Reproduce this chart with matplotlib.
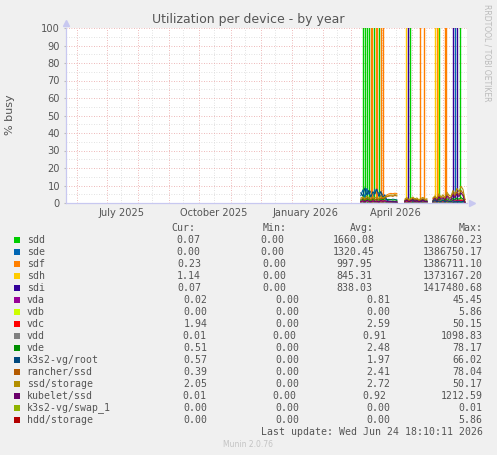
import matplotlib
matplotlib.use("Agg")
import matplotlib.pyplot as plt
from matplotlib.patches import Rectangle
import numpy as np
import pandas as pd

nan = np.nan

# legend order == drawing order
devices = ["sdd", "sde", "sdf", "sdh", "sdi", "vda", "vdb", "vdc", "vdd", "vde",
           "k3s2-vg/root", "rancher/ssd", "ssd/storage", "kubelet/ssd",
           "k3s2-vg/swap_1", "hdd/storage"]
colors = ["#00CC00", "#0066B3", "#FF8000", "#FFCC00", "#330099", "#990099",
          "#CCFF00", "#FF0000", "#808080", "#008F00", "#00487D", "#B35A00",
          "#B38F00", "#6B006B", "#8FB300", "#B30000"]

cur = ["0.07", "0.00", "0.23", "1.14", "0.07", "0.02", "0.00", "1.94", "0.01",
       "0.51", "0.57", "0.39", "2.05", "0.01", "0.00", "0.00"]
mins = ["0.00"] * 16
avgs = ["1660.08", "1320.45", "997.95", "845.31", "838.03", "0.81", "0.00",
        "2.59", "0.91", "2.48", "1.97", "2.41", "2.72", "0.92", "0.00", "0.00"]
maxs = ["1386760.23", "1386750.17", "1386711.10", "1373167.20", "1417480.68",
        "45.45", "5.86", "50.15", "1098.83", "78.17", "66.02", "78.04", "50.17",
        "1212.59", "0.01", "5.86"]

# samples every 2 days from 2026-03-11, gaps where the node was down
sample_dates = pd.date_range("2026-03-11", periods=53, freq="2D")

sdd_busy = [1.2, 0.8, 1.5, 0.9, 1.1, 0.7, 1.3, 0.6, 0.9, 0.5, 0.8, 0.4, 0.6, 0.3, 0.5, 0.4, 0.3, 0.2, 0.3,
            nan, nan, nan,
            0.4, 0.6, 0.3, 0.5, 0.2, 0.4, 0.3, 0.5, 0.2, 0.3, 0.4, 0.2,
            nan, nan,
            0.3, 0.5, 0.2, 0.4, 0.3, 0.6, 0.2, 0.4, 0.3, 0.5, 0.2, 0.3, 0.4, 0.2, 0.3, 0.1, 0.07]
sde_busy = [4.2, 7.5, 3.1, 8.3, 5.0, 6.8, 2.9, 7.9, 4.4, 6.1, 3.6, 5.2, 2.4, 2.0, 2.1, 1.9, 2.2, 2.0, 1.8,
            nan, nan, nan,
            1.1, 2.3, 0.8, 1.9, 1.4, 2.6, 0.9, 1.7, 1.2, 2.1, 0.7, 1.0,
            nan, nan,
            0.6, 1.2, 0.4, 0.9, 0.7, 1.5, 0.5, 1.1, 0.8, 0.6, 1.3, 0.4, 0.9, 0.5, 0.7, 0.3, 0.0]
sdf_busy = [0.9, 1.4, 0.7, 1.8, 1.1, 0.8, 1.5, 0.9, 1.2, 1.0, 1.6, 1.3, 2.8, 4.6, 5.2, 5.5, 5.3, 5.6, 5.4,
            nan, nan, nan,
            0.8, 1.2, 0.6, 1.0, 1.4, 0.7, 1.1, 0.5, 0.9, 1.3, 0.6, 0.8,
            nan, nan,
            0.7, 1.1, 0.5, 1.3, 0.8, 1.0, 0.6, 1.5, 0.9, 0.7, 1.6, 1.0, 1.8, 1.2, 2.1, 1.4, 0.23]
sdh_busy = [0.6, 0.9, 0.4, 1.2, 0.7, 0.5, 1.0, 0.6, 0.8, 0.4, 0.9, 0.7, 1.1, 0.8, 0.6, 0.7, 0.5, 0.6, 0.4,
            nan, nan, nan,
            0.9, 1.3, 0.7, 1.1, 1.5, 0.8, 1.2, 0.6, 1.0, 1.4, 0.7, 0.9,
            nan, nan,
            1.0, 1.4, 0.8, 1.6, 1.1, 1.3, 0.9, 1.8, 1.2, 1.0, 2.0, 1.3, 2.2, 1.5, 2.4, 1.7, 1.14]
sdi_busy = [0.5, 0.8, 0.3, 1.0, 0.6, 0.4, 0.9, 0.5, 0.7, 0.3, 0.8, 0.6, 0.9, 0.5, 0.4, 0.6, 0.3, 0.5, 0.4,
            nan, nan, nan,
            0.4, 0.7, 0.3, 0.6, 0.9, 0.4, 0.7, 0.3, 0.5, 0.8, 0.4, 0.5,
            nan, nan,
            0.5, 0.8, 0.4, 0.9, 0.6, 0.7, 0.4, 1.0, 0.6, 0.5, 1.1, 0.7, 1.2, 0.8, 1.3, 0.9, 0.07]
vda_busy = [0.9, 1.2, 0.8, 1.4, 1.0, 0.9, 1.3, 0.8, 1.1, 0.9, 1.2, 1.0, 1.3, 1.1, 0.9, 1.0, 0.8, 0.9, 0.7,
            nan, nan, nan,
            0.8, 1.1, 0.7, 1.0, 1.2, 0.8, 1.0, 0.6, 0.9, 1.1, 0.7, 0.8,
            nan, nan,
            0.8, 1.2, 0.7, 1.3, 0.9, 1.1, 0.8, 1.4, 1.0, 0.9, 1.5, 1.1, 1.6, 1.2, 1.7, 1.3, 0.02]
vdb_busy = [0.0] * 19 + [nan] * 3 + [0.0] * 12 + [nan] * 2 + [0.0] * 17
vdc_busy = [0.6, 0.9, 0.5, 1.1, 0.7, 0.6, 1.0, 0.5, 0.8, 0.6, 0.9, 0.7, 1.0, 0.8, 0.6, 0.7, 0.5, 0.6, 0.5,
            nan, nan, nan,
            0.5, 0.8, 0.4, 0.7, 0.9, 0.5, 0.7, 0.4, 0.6, 0.8, 0.5, 0.6,
            nan, nan,
            0.6, 0.9, 0.5, 1.0, 0.7, 0.8, 0.6, 1.1, 0.7, 0.6, 1.2, 0.8, 1.3, 0.9, 1.4, 1.0, 1.94]
vdd_busy = [0.4, 0.6, 0.3, 0.7, 0.5, 0.4, 0.6, 0.3, 0.5, 0.4, 0.6, 0.5, 0.7, 0.5, 0.4, 0.5, 0.3, 0.4, 0.3,
            nan, nan, nan,
            0.3, 0.5, 0.2, 0.4, 0.6, 0.3, 0.5, 0.2, 0.4, 0.5, 0.3, 0.4,
            nan, nan,
            0.4, 0.6, 0.3, 0.7, 0.4, 0.5, 0.3, 0.7, 0.5, 0.4, 0.8, 0.5, 0.8, 0.6, 0.9, 0.6, 0.01]
vde_busy = [1.6, 2.1, 1.4, 2.5, 1.8, 1.5, 2.2, 1.7, 2.0, 1.6, 2.3, 1.9, 2.4, 2.0, 1.8, 1.9, 1.6, 1.8, 1.5,
            nan, nan, nan,
            1.2, 1.8, 1.0, 1.5, 2.0, 1.3, 1.7, 1.1, 1.4, 1.9, 1.2, 1.3,
            nan, nan,
            1.4, 2.0, 1.2, 2.3, 1.6, 1.9, 1.3, 2.5, 1.7, 1.5, 2.7, 1.9, 2.9, 2.1, 3.1, 2.3, 0.51]
root_busy = [5.8, 3.9, 8.6, 4.5, 7.2, 3.3, 6.4, 5.1, 8.0, 3.8, 6.6, 2.9, 4.7, 1.6, 1.1, 0.9, 0.8, 0.7, 0.6,
             nan, nan, nan,
             1.3, 2.0, 1.1, 1.6, 0.9, 1.8, 1.2, 1.5, 0.8, 1.4, 1.0, 0.9,
             nan, nan,
             0.9, 1.4, 0.7, 1.1, 0.8, 1.6, 0.6, 1.2, 0.9, 0.7, 1.3, 0.6, 1.0, 0.8, 0.7, 0.9, 0.57]
rancher_busy = [2.1, 2.6, 1.8, 2.9, 2.3, 2.0, 2.7, 1.9, 2.4, 2.2, 2.8, 2.5, 3.1, 3.6, 3.9, 4.1, 3.8, 4.3, 4.0,
                nan, nan, nan,
                1.5, 2.4, 1.3, 2.0, 2.7, 1.6, 2.2, 1.4, 1.9, 2.5, 1.7, 1.8,
                nan, nan,
                2.4, 3.2, 2.0, 4.1, 2.8, 3.6, 2.5, 5.0, 3.3, 2.9, 5.8, 4.0, 6.4, 4.6, 7.2, 5.5, 0.39]
storage_busy = [2.8, 3.4, 2.5, 3.9, 3.1, 2.7, 3.6, 2.9, 3.3, 2.6, 3.8, 3.0, 3.5, 3.9, 4.2, 4.6, 4.4, 4.8, 4.5,
                nan, nan, nan,
                2.2, 3.1, 1.9, 2.7, 3.4, 2.3, 2.9, 1.8, 2.6, 3.2, 2.1, 2.4,
                nan, nan,
                2.9, 4.1, 2.6, 5.3, 3.4, 4.7, 3.1, 6.2, 4.4, 3.8, 7.1, 5.2, 8.4, 6.3, 9.6, 7.8, 2.05]
kubelet_busy = [0.8, 1.3, 0.6, 1.5, 1.0, 0.7, 1.2, 0.9, 1.1, 0.6, 1.4, 1.0, 1.2, 0.9, 0.7, 0.8, 0.6, 0.7, 0.5,
                nan, nan, nan,
                0.9, 1.6, 0.7, 1.3, 1.9, 0.8, 1.4, 0.6, 1.1, 1.7, 0.8, 1.0,
                nan, nan,
                1.6, 2.7, 1.3, 3.4, 2.1, 2.9, 1.7, 3.9, 2.5, 2.0, 4.6, 3.1, 5.2, 3.6, 5.8, 4.2, 0.01]
swap_busy = [0.0] * 19 + [nan] * 3 + [0.0] * 12 + [nan] * 2 + [0.0] * 17
hdd_busy = [0.0] * 19 + [nan] * 3 + [0.0] * 12 + [nan] * 2 + [0.0] * 17

series = [sdd_busy, sde_busy, sdf_busy, sdh_busy, sdi_busy, vda_busy, vdb_busy,
          vdc_busy, vdd_busy, vde_busy, root_busy, rancher_busy, storage_busy,
          kubelet_busy, swap_busy, hdd_busy]

# short bursts way above 100 %
spike_dates = ["2026-03-13", "2026-03-15", "2026-03-17", "2026-03-19", "2026-03-21",
               "2026-03-22", "2026-03-24", "2026-03-26", "2026-03-27", "2026-03-29",
               "2026-03-31", "2026-04-02", "2026-04-25", "2026-04-27", "2026-04-29",
               "2026-05-09", "2026-05-13", "2026-05-24", "2026-05-26", "2026-05-27",
               "2026-05-28", "2026-06-03", "2026-06-04", "2026-06-11", "2026-06-13",
               "2026-06-15", "2026-06-18"]
spike_devices = ["sdd", "sdd", "sdd", "sdd", "sdf", "sdf", "sdd", "sdf", "sdf", "sdd",
                 "sdf", "sdf", "sdh", "sdi", "sdd", "sdf", "sdf", "sdh", "sdf", "sdh",
                 "sdd", "sdf", "sdf", "sdi", "sde", "sdi", "sdd"]
spike_peaks = [1386760.23, 1102344.0, 986512.0, 1254001.0, 1386711.10, 874210.0,
               1003321.0, 1211000.0, 954003.0, 887650.0, 1301122.0, 1099870.0,
               1373167.20, 1417480.68, 1200450.0, 1150066.0, 1320400.0, 998712.0,
               1044560.0, 1210330.0, 1156700.0, 1254880.0, 1088120.0, 1305500.0,
               1386750.17, 1199040.0, 1276300.0]

W, H = 497, 455
TXT = "#555555"


def fx(px):
    return px / W


def fy(py):
    return 1 - py / H


fig = plt.figure(figsize=(W / 100, H / 100), dpi=100, facecolor="#F0F0F0")
ax = fig.add_axes([fx(66), fy(203), 400.75 / W, 175 / H])
ax.set_facecolor("white")

t0 = pd.Timestamp("2025-05-20 18:10")
t1 = pd.Timestamp("2026-06-24 18:10")

# grid
for d in pd.date_range("2025-06-15", "2026-06-15", freq="MS") + pd.Timedelta(days=14):
    ax.axvline(d, color="#D8D8D8", lw=0.6, ls=(0, (1, 2)), zorder=0)
for d in pd.date_range("2025-06-01", "2026-06-01", freq="MS"):
    ax.axvline(d, color="#E8A0A0", lw=0.6, ls=(0, (1, 2)), zorder=0)
for v in range(5, 100, 10):
    ax.axhline(v, color="#D8D8D8", lw=0.6, ls=(0, (1, 2)), zorder=0)
for v in range(10, 101, 10):
    ax.axhline(v, color="#E8A0A0", lw=0.6, ls=(0, (1, 2)), zorder=0)

spike_x = pd.to_datetime(spike_dates)
for name, vals, col in zip(devices, series, colors):
    ax.plot(sample_dates, vals, color=col, lw=0.75, zorder=2)
    sel = [i for i, s in enumerate(spike_devices) if s == name]
    if sel:
        ax.vlines(spike_x[sel], 0, [spike_peaks[i] for i in sel], color=col, lw=1.0, zorder=2)

ax.set_xlim(t0, t1)
ax.set_ylim(0, 100)

for s in ["top", "right"]:
    ax.spines[s].set_visible(False)
for s in ["left", "bottom"]:
    ax.spines[s].set_color("#C8C8F0")
    ax.spines[s].set_linewidth(0.9)
ax.plot(1.012, 0, marker=">", color="#C8C8F0", ms=4, transform=ax.transAxes, clip_on=False)
ax.plot(0, 1.03, marker="^", color="#C8C8F0", ms=4, transform=ax.transAxes, clip_on=False)

ax.set_yticks(range(0, 101, 10))
ax.tick_params(axis="y", length=1.5, pad=2.8, color="#BBBBBB", labelsize=7.1, labelcolor=TXT)
label_dates = pd.to_datetime(["2025-07-15", "2025-10-15", "2026-01-15", "2026-04-15"])
ax.set_xticks(label_dates)
ax.set_xticklabels(["July 2025", "October 2025", "January 2026", "April 2026"])
ax.tick_params(axis="x", length=0, pad=3.5, labelsize=7.1, labelcolor=TXT)

fig.text(fx(248.5), fy(19), "Utilization per device - by year", ha="center", va="center",
         fontsize=9, color=TXT)
fig.text(fx(10), fy(115), "% busy", rotation=90, ha="center", va="center", fontsize=8, color=TXT)
fig.text(fx(487), fy(4), "RRDTOOL / TOBI OETIKER", rotation=270, ha="center", va="top",
         fontsize=5.5, color="#BBBBBB")

# legend table
mono = "DejaVu Sans Mono"
fs = 7.1
row0, step = 240, 11.97
fig.text(fx(195), fy(row0 - step), "Cur:", ha="right", va="center", family=mono, fontsize=fs, color=TXT)
fig.text(fx(287), fy(row0 - step), "Min:", ha="right", va="center", family=mono, fontsize=fs, color=TXT)
fig.text(fx(374), fy(row0 - step), "Avg:", ha="right", va="center", family=mono, fontsize=fs, color=TXT)
fig.text(fx(483), fy(row0 - step), "Max:", ha="right", va="center", family=mono, fontsize=fs, color=TXT)
for i, name in enumerate(devices):
    y = row0 + step * i
    if i < 2:
        cols = (200, 284.3, 374.3)
    elif i < 5:
        cols = (201, 286.7, 372.7)
    elif name in ("vdd", "kubelet/ssd"):
        cols = (206, 296, 386.7)
    else:
        cols = (207.3, 299, 390.7)
    fig.patches.append(Rectangle((fx(14), fy(y + 3)), 6 / W, 6 / H, transform=fig.transFigure,
                                 facecolor=colors[i], edgecolor="none"))
    fig.text(fx(26.7), fy(y), name, ha="left", va="center", family=mono, fontsize=fs, color=TXT)
    for x, txt in zip(cols, (cur[i], mins[i], avgs[i])):
        fig.text(fx(x), fy(y), txt, ha="right", va="center", family=mono, fontsize=fs, color=TXT)
    fig.text(fx(482.7), fy(y), maxs[i], ha="right", va="center", family=mono, fontsize=fs, color=TXT)

fig.text(fx(482.7), fy(row0 + step * 16), "Last update: Wed Jun 24 18:10:11 2026", ha="right",
         va="center", family=mono, fontsize=fs, color=TXT)
fig.text(fx(248), fy(444.3), "Munin 2.0.76", ha="center", va="center", fontsize=5.5, color="#C4C4C4")

fig.savefig("out.png", dpi=100, facecolor=fig.get_facecolor())
